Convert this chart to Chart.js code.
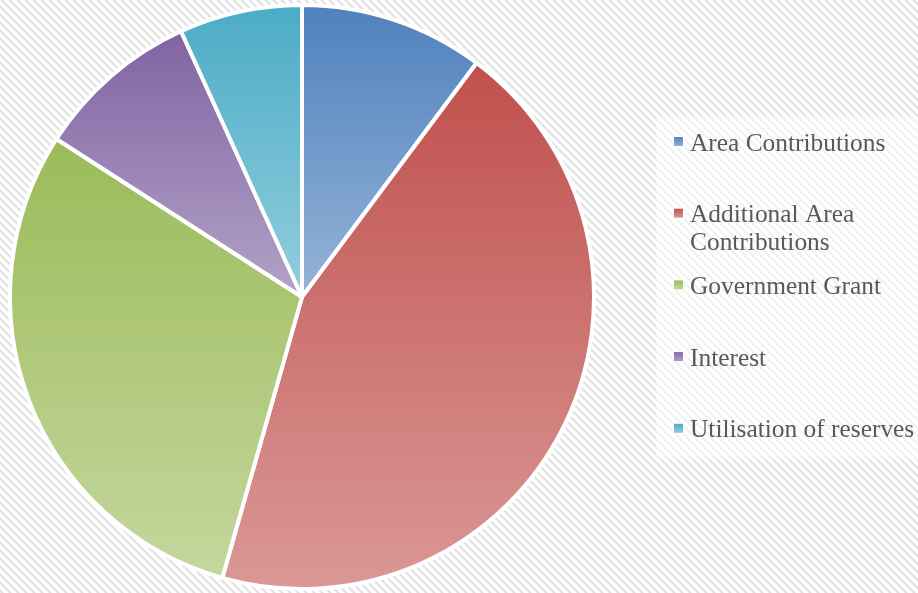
<!DOCTYPE html>
<html>
<head>
<meta charset="utf-8">
<script src="https://cdn.jsdelivr.net/npm/chart.js@4/dist/chart.umd.min.js"></script>
<style>
  html, body { margin: 0; padding: 0; background: #ffffff; }
  #wrap { width: 918px; height: 593px; }
</style>
</head>
<body>
<div id="wrap"><canvas id="incomechart" width="918" height="593"></canvas></div>
<script>
// Data block
const income_labels = ['Area Contributions', 'Additional Area Contributions', 'Government Grant', 'Interest', 'Utilisation of reserves'];
const income_data = [10.2, 44.2, 29.7, 9.1, 6.8];
const slice_top_colors = ['#4f81bd', '#c0504d', '#9bbb59', '#8064a2', '#4bacc6'];
const slice_bottom_colors = ['#95b3d7', '#da9896', '#c4d79d', '#b3a2c7', '#93cddd'];

// Vertical gradient per slice, from the slice's own top to bottom
function sliceGradient(context) {
    const i = context.dataIndex;
    if (context.type !== 'data' || !context.chart.chartArea) {
        return slice_top_colors[i || 0];
    }
    const chart = context.chart;
    const area = chart.chartArea;
    const data = context.dataset.data;
    const total = data.reduce((a, b) => a + b, 0);
    let before = 0;
    for (let k = 0; k < i; k++) before += data[k];
    const s = -Math.PI / 2 + 2 * Math.PI * before / total;
    const e = s + 2 * Math.PI * data[i] / total;
    const r = (Math.min(area.width, area.height) - 4) / 2;
    const cy = (area.top + area.bottom) / 2;
    const ys = [cy, cy + r * Math.sin(s), cy + r * Math.sin(e)];
    // top / bottom extremes of the circle inside the slice
    [-Math.PI / 2, Math.PI / 2, 3 * Math.PI / 2].forEach(a => {
        if (a >= s && a <= e) ys.push(cy + r * Math.sin(a));
    });
    const y0 = Math.min(...ys), y1 = Math.max(...ys);
    const g = chart.ctx.createLinearGradient(0, y0, 0, y1);
    g.addColorStop(0, slice_top_colors[i]);
    g.addColorStop(1, slice_bottom_colors[i]);
    return g;
}

// Setup block
const incomeData = {
    labels: income_labels,
    datasets: [{
        label: 'Income',
        data: income_data,
        backgroundColor: sliceGradient,
        borderColor: '#ffffff',
        borderWidth: 4
    }]  // End datasets
};  // End data

// Hatched background plugin block
const hatchBackground = {
    id: 'hatchBackground',
    beforeDraw(chart) {
        const n = 8;
        const tile = document.createElement('canvas');
        tile.width = n;
        tile.height = n;
        const tctx = tile.getContext('2d');
        tctx.fillStyle = '#ffffff';
        tctx.fillRect(0, 0, n, n);
        for (let x = 0; x < n; x++) {
            for (let y = 0; y < n; y++) {
                const d = ((x - y) % n + n) % n;
                if (d < 4) {
                    tctx.fillStyle = (d === 0 || d === 3) ? '#eeeeee' : '#e2e2e2';
                    tctx.fillRect(x, y, 1, 1);
                }
            }
        }
        const ctx = chart.ctx;
        ctx.save();
        ctx.fillStyle = ctx.createPattern(tile, 'repeat');
        ctx.fillRect(0, 0, chart.width, chart.height);
        // lighter box behind the legend
        ctx.fillStyle = 'rgba(255,255,255,0.5)';
        ctx.fillRect(656, 116, 262, 344);
        ctx.restore();
    }
}

// Custom legend plugin block (fixed pitch, wrapped long labels)
const sideLegend = {
    id: 'sideLegend',
    afterDraw(chart) {
        const ctx = chart.ctx;
        const labels = chart.data.labels;
        ctx.save();
        ctx.font = '25.4px "Liberation Serif"';
        ctx.textBaseline = 'middle';
        ctx.textAlign = 'left';
        labels.forEach((text, i) => {
            const y = 141.5 + i * 71.7;
            // marker
            const g = ctx.createLinearGradient(0, y - 5, 0, y + 5);
            g.addColorStop(0, slice_top_colors[i]);
            g.addColorStop(1, slice_bottom_colors[i]);
            ctx.fillStyle = '#ffffff';
            ctx.fillRect(673, y - 5.5, 11, 11);
            ctx.fillStyle = g;
            ctx.fillRect(674, y - 4.5, 9, 9);
            // text, wrapped when wider than the box
            const words = text.split(' ');
            const lines = [];
            let line = '';
            words.forEach(w => {
                const test = line ? line + ' ' + w : w;
                if (line && ctx.measureText(test).width > 228) {
                    lines.push(line);
                    line = w;
                } else {
                    line = test;
                }
            });
            lines.push(line);
            ctx.fillStyle = '#595959';
            lines.forEach((l, j) => ctx.fillText(l, 690, y + 2.5 + j * 28));
        });
        ctx.restore();
    }
}

// Config block
const incomeConfig = {
    type: 'pie',
    data: incomeData,
    options: {
        responsive: false,
        animation: false,
        layout: {
            padding: { left: 8, right: 322, top: 2, bottom: 1 }
        },
        plugins: {
            legend: { display: false },
            tooltip: { enabled: false }
        }  // End Plugins
    },  // End options
    plugins: [hatchBackground, sideLegend]
};  // End config

// render / init block
const incomeChart = new Chart(
    document.getElementById('incomechart'),
    incomeConfig
)  // End Chart
</script>
</body>
</html>
